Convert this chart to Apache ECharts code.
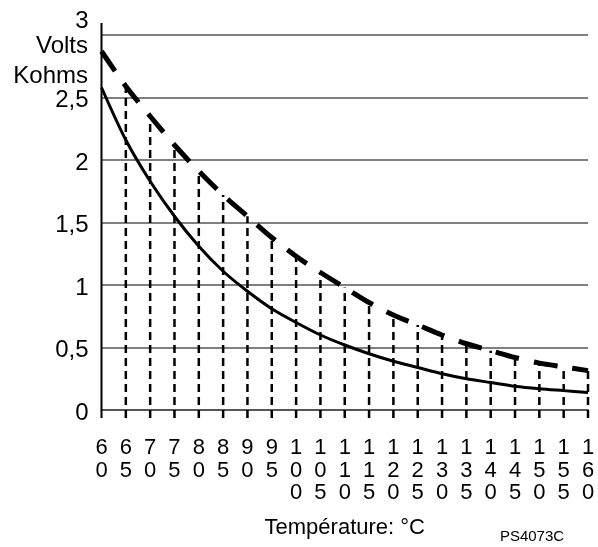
<!DOCTYPE html>
<html>
<head>
<meta charset="utf-8">
<script src="https://cdn.jsdelivr.net/npm/echarts@6/dist/echarts.min.js"></script>
<style>
  html, body { margin: 0; padding: 0; background: #fff; }
  #chart { width: 598px; height: 547px; }
</style>
</head>
<body>
<div id="chart"></div>
<script>
// Temperature (°C) along the bottom axis
const temperatures = [60, 65, 70, 75, 80, 85, 90, 95, 100, 105, 110, 115, 120, 125, 130, 135, 140, 145, 150, 155, 160];
// Sensor output voltage (solid curve)
const volts = [2.58, 2.16, 1.83, 1.55, 1.31, 1.11, 0.95, 0.81, 0.70, 0.60, 0.52, 0.45, 0.39, 0.34, 0.29, 0.25, 0.22, 0.19, 0.17, 0.155, 0.14];
// Sensor resistance in kilo-ohms (dashed curve)
const kohms = [2.87, 2.59, 2.35, 2.12, 1.91, 1.72, 1.55, 1.38, 1.23, 1.10, 0.98, 0.86, 0.76, 0.68, 0.60, 0.53, 0.475, 0.42, 0.375, 0.345, 0.315];

const FONT = "'Liberation Sans', Arial, sans-serif";

const chart = echarts.init(document.getElementById('chart'), null, { renderer: 'canvas' });

const voltsData = temperatures.map((t, i) => [t, volts[i]]);
const kohmsData = temperatures.map((t, i) => [t, kohms[i]]);
// Drop lines from the resistance curve down past the temperature axis
const dropData = temperatures.map((t, i) => [t, kohms[i]]).filter(d => d[0] > temperatures[0]);

chart.setOption({
  animation: false,
  backgroundColor: '#fff',
  grid: { left: 101.5, right: 10, top: 35, bottom: 137, containLabel: false },
  xAxis: {
    type: 'value',
    min: 60, max: 160, interval: 5,
    name: 'Température: °C',
    nameLocation: 'middle',
    nameGap: 107,
    nameTextStyle: { fontFamily: FONT, fontSize: 22, color: '#000' },
    axisLine: { show: true, onZero: false, lineStyle: { color: '#555', width: 2 } },
    axisTick: { show: false },
    splitLine: { show: false },
    axisLabel: {
      margin: 27,
      fontFamily: FONT, fontSize: 22, color: '#000', lineHeight: 22.5,
      formatter: v => String(v).split('').join('\n')
    }
  },
  yAxis: {
    type: 'value',
    min: 0, max: 3, interval: 0.5,
    axisLine: { show: false },
    axisTick: { show: false },
    splitLine: { show: true, lineStyle: { color: '#555', width: 1.5 } },
    axisLabel: {
      margin: 13,
      fontFamily: FONT, fontSize: 24, color: '#000',
      formatter: v => {
        const s = String(v).replace('.', ',');
        return v === 3 ? '{top|' + s + '}' : '{n|' + s + '}';
      },
      rich: {
        top: { fontFamily: FONT, fontSize: 24, color: '#000', padding: [0, 0, 28, 0] },
        n: { fontFamily: FONT, fontSize: 24, color: '#000', padding: [6, 0, 0, 0] }
      }
    }
  },
  graphic: [
    {
      type: 'text', x: 88, y: 31,
      style: { text: 'Volts\nKohms', font: '24px ' + FONT, fill: '#000', align: 'right', lineHeight: 30 }
    },
    {
      type: 'text', x: 532, y: 537,
      style: { text: 'PS4073C', font: '15px ' + FONT, fill: '#000', align: 'center', verticalAlign: 'middle' }
    }
  ],
  series: [
    {
      // vertical axis line, running slightly past the top gridline and below zero
      type: 'custom',
      clip: false,
      silent: true,
      data: [[60, 3]],
      renderItem: (params, api) => {
        const top = api.coord([api.value(0), api.value(1)]);
        const bottom = api.coord([api.value(0), 0]);
        return {
          type: 'line',
          shape: { x1: top[0], y1: top[1] - 12, x2: bottom[0], y2: bottom[1] + 8 },
          style: { stroke: '#000', lineWidth: 2 }
        };
      },
      z: 3
    },
    {
      type: 'custom',
      clip: false,
      silent: true,
      data: dropData,
      renderItem: (params, api) => {
        const top = api.coord([api.value(0), api.value(1)]);
        const bottom = api.coord([api.value(0), 0]);
        return {
          type: 'line',
          shape: { x1: bottom[0], y1: bottom[1] + 8, x2: top[0], y2: top[1] },
          style: { stroke: '#000', lineWidth: 2.5, lineDash: [8, 5] }
        };
      },
      z: 3
    },
    {
      name: 'Kohms',
      type: 'line',
      data: kohmsData,
      smooth: 0.3,
      symbol: 'none',
      clip: false,
      lineStyle: { color: '#000', width: 5, type: [24, 15] },
      z: 4
    },
    {
      name: 'Volts',
      type: 'line',
      data: voltsData,
      smooth: 0.3,
      symbol: 'none',
      clip: false,
      lineStyle: { color: '#000', width: 3, type: 'solid' },
      z: 4
    }
  ]
});
</script>
</body>
</html>
